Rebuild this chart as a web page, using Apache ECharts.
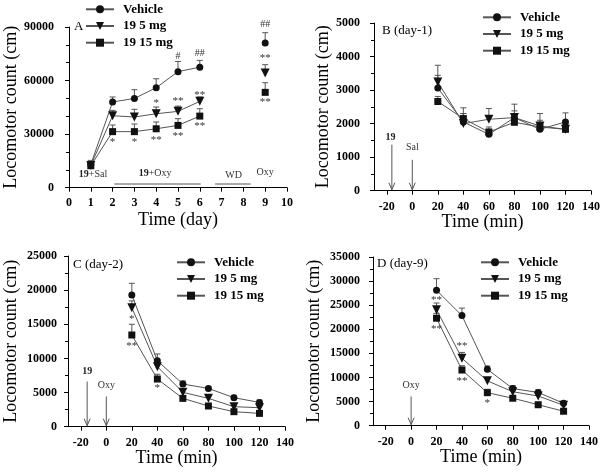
<!DOCTYPE html>
<html><head><meta charset="utf-8">
<script src="https://cdn.jsdelivr.net/npm/echarts@6/dist/echarts.min.js"></script>
<style>html,body{margin:0;padding:0;background:#fff}#c{width:604px;height:474px}</style>
</head><body><div id="c"></div>
<script>
const FONT = '"Liberation Serif","Times New Roman",serif';
const groupNames = ['Vehicle', '19 5 mg', '19 15 mg'];

// Panel A (x = day)
const aDays = [1, 2, 3, 4, 5, 6, 9];
const aVehicle = [13000, 48000, 50000, 56000, 65000, 67500, 81000];
const aVehicleSem = [2300, 2800, 4900, 5000, 5700, 3800, 5800];
const a5mg = [12500, 40300, 39600, 41400, 42750, 48350, 64200];
const a5mgSem = [1500, 3000, 4300, 3800, 2950, 2450, 4700];
const a15mg = [12300, 31400, 31400, 33000, 34900, 40100, 53400];
const a15mgSem = [1500, 3700, 4250, 3800, 3750, 4150, 5400];

// Panels B, C, D (x = min)
const tMin = [20, 40, 60, 80, 100, 120];
const tTicks = [-20, 0, 20, 40, 60, 80, 100, 120, 140];

const bVehicle = [3060, 2050, 1680, 2180, 1830, 2050];
const bVehicleSem = [680, 250, 150, 400, 200, 270];
const b5mg = [3240, 2000, 2130, 2180, 1930, 1830];
const b5mgSem = [200, 300, 320, 200, 370, 150];
const b15mg = [2660, 2150, 1750, 2040, 1900, 1830];
const b15mgSem = [150, 320, 150, 150, 200, 100];

const cVehicle = [19300, 9670, 6250, 5600, 4250, 3560];
const cVehicleSem = [1700, 980, 450, 300, 350, 350];
const c5mg = [17430, 8790, 5030, 4150, 2930, 2780];
const c5mgSem = [1000, 600, 500, 400, 400, 400];
const c15mg = [13430, 6980, 4150, 3030, 2200, 1950];
const c15mgSem = [1570, 700, 400, 350, 300, 300];

const dVehicle = [28100, 22840, 11700, 7700, 6900, 4650];
const dVehicleSem = [2400, 1550, 700, 600, 550, 400];
const d5mg = [24050, 14000, 9300, 7050, 6150, 4250];
const d5mgSem = [1400, 1200, 700, 500, 500, 300];
const d15mg = [22300, 11550, 6850, 5700, 4350, 3000];
const d15mgSem = [1000, 900, 700, 400, 300, 300];

// annotations [x, y, text]
const aNotes = [
  [1.1, 7700, '{b|19}+Sal'], [3.95, 8200, '{b|19}+Oxy'], [7.55, 7100, 'WD'], [9.0, 8800, 'Oxy'],
  [2, 27000, '*'], [3, 27000, '*'], [4, 49100, '*'], [4, 28100, '**'],
  [5, 50000, '**'], [5, 30700, '**'], [5, 73800, '#'],
  [6, 75400, '##'], [6, 53800, '**'], [6, 36000, '**'],
  [9, 91300, '##'], [9, 74400, '**'], [9, 49500, '**']
];
const aUnderlines = [[2.08, 6.04, 2070], [6.7, 8.33, 2070]];
const bNotes = [[-17, 1600, '{b|19}'], [0, 1300, 'Sal']];
const bArrows = [[-16, 1370], [0, 920]];
const cNotes = [[-15, 8085, '{b|19}'], [0, 6000, 'Oxy'], [20, 16230, '*'], [20, 12240, '**'], [40, 6140, '*']];
const cArrows = [[-15, 6620], [0, 4430]];
const dNotes = [[0, 8280, 'Oxy'], [20, 26780, '**'], [20, 20560, '**'], [40, 17130, '**'], [40, 9880, '**'], [60, 5380, '*']];
const dArrows = [[0, 6070]];

const symbols = ['circle', 'triangle', 'rect'];
const symRot = [0, 180, 0];
const symSize = [7, 9, 7];
const LINE = '#555';

function lineSeries(gi, xs, vals, k) {
  const step = xs[1] - xs[0];
  const data = [];
  xs.forEach((x, i) => {
    if (i > 0 && x - xs[i - 1] > 1.5 * step) data.push([x, '-']);
    data.push([x, vals[i]]);
  });
  return {
    type: 'line', name: groupNames[k], xAxisIndex: gi, yAxisIndex: gi, data,
    symbol: symbols[k], symbolRotate: symRot[k], symbolSize: symSize[k], showSymbol: true, showAllSymbol: true,
    connectNulls: false, z: 3,
    lineStyle: { color: LINE, width: 1 }, itemStyle: { color: '#111' }
  };
}
function errSeries(gi, xs, vals, sems) {
  return {
    type: 'custom', xAxisIndex: gi, yAxisIndex: gi, silent: true, z: 2,
    data: xs.map((x, i) => [x, vals[i], sems[i]]),
    renderItem(params, api) {
      const x = api.value(0), m = api.value(1), s = api.value(2);
      const p0 = api.coord([x, m]), p1 = api.coord([x, m + s]);
      const w = 3;
      return { type: 'group', children: [
        { type: 'line', shape: { x1: p0[0], y1: p0[1], x2: p1[0], y2: p1[1] }, style: { stroke: LINE, lineWidth: 1 } },
        { type: 'line', shape: { x1: p1[0] - w, y1: p1[1], x2: p1[0] + w, y2: p1[1] }, style: { stroke: LINE, lineWidth: 1 } }
      ]};
    }
  };
}
function noteSeries(gi, items) {
  return {
    type: 'custom', xAxisIndex: gi, yAxisIndex: gi, silent: true, z: 5,
    data: items.map(d => [d[0], d[1]]),
    renderItem(params, api) {
      const t = items[params.dataIndex][2];
      const p = api.coord([api.value(0), api.value(1)]);
      const star = t[0] === '*';
      return { type: 'text', x: p[0], y: p[1] + (star ? 3 : 0), style: {
        text: t, fill: '#333', fontFamily: FONT, fontSize: star ? 11 : 10, align: 'center', verticalAlign: 'middle',
        rich: { b: { fontWeight: 'bold', fontFamily: FONT, fontSize: 10, fill: '#222' } }
      }};
    }
  };
}
function arrowSeries(gi, items) {
  return {
    type: 'custom', xAxisIndex: gi, yAxisIndex: gi, silent: true, z: 4,
    data: items,
    renderItem(params, api) {
      const p0 = api.coord([api.value(0), api.value(1)]);
      const p1 = api.coord([api.value(0), 0]);
      const tip = p1[1] - 1;
      return { type: 'group', children: [
        { type: 'line', shape: { x1: p0[0], y1: p0[1], x2: p0[0], y2: tip }, style: { stroke: LINE, lineWidth: 1 } },
        { type: 'polyline', shape: { points: [[p0[0] - 3, tip - 7], [p0[0], tip], [p0[0] + 3, tip - 7]] }, style: { stroke: LINE, lineWidth: 1, fill: null } }
      ]};
    }
  };
}
function underlineSeries(gi, items) {
  return {
    type: 'custom', xAxisIndex: gi, yAxisIndex: gi, silent: true, z: 4,
    data: items,
    renderItem(params, api) {
      const a = api.coord([api.value(0), api.value(2)]);
      const b = api.coord([api.value(1), api.value(2)]);
      return { type: 'line', shape: { x1: a[0], y1: a[1], x2: b[0], y2: b[1] }, style: { stroke: LINE, lineWidth: 1 } };
    }
  };
}

const grids = [
  { left: 69, top: 27, width: 218, height: 160.7 },
  { left: 374, top: 23, width: 217, height: 167.7 },
  { left: 68, top: 256, width: 217, height: 170.7 },
  { left: 373, top: 257, width: 216, height: 168.7 }
];
const axisBase = {
  axisLine: { show: true, onZero: false, lineStyle: { color: '#000', width: 1 } },
  axisTick: { show: true, length: 4, lineStyle: { color: '#000' } },
  splitLine: { show: false },
  nameLocation: 'middle',
  nameTextStyle: { fontFamily: FONT, fontSize: 18, color: '#000' }
};
const lab = (margin) => ({ fontFamily: FONT, fontSize: 12, fontWeight: 'bold', color: '#000', margin, formatter: v => String(v) });
const tickT = { show: true, length: 4, lineStyle: { color: '#000' }, customValues: tTicks };

const xAxes = [
  Object.assign({}, axisBase, { gridIndex: 0, type: 'value', min: 0, max: 10, interval: 1, name: 'Time (day)', nameGap: 24, axisLabel: lab(9) }),
  Object.assign({}, axisBase, { gridIndex: 1, type: 'value', min: -30, max: 140, interval: 10, name: 'Time (min)', nameGap: 23,
    axisLabel: Object.assign(lab(10), { customValues: tTicks }), axisTick: tickT }),
  Object.assign({}, axisBase, { gridIndex: 2, type: 'value', min: -30, max: 140, interval: 10, name: 'Time (min)', nameGap: 22,
    axisLabel: Object.assign(lab(10), { customValues: tTicks }), axisTick: tickT }),
  Object.assign({}, axisBase, { gridIndex: 3, type: 'value', min: -30, max: 140, interval: 10, name: 'Time (min)', nameGap: 22,
    axisLabel: Object.assign(lab(10), { customValues: tTicks }), axisTick: tickT })
];
const yName = 'Locomotor count (cm)';
const minor = (n) => ({ show: true, splitNumber: n, length: 3, lineStyle: { color: '#000' } });
const yAxes = [
  Object.assign({}, axisBase, { gridIndex: 0, type: 'value', min: 0, max: 90000, interval: 30000, name: yName, nameGap: 48, axisLabel: lab(15), minorTick: minor(3) }),
  Object.assign({}, axisBase, { gridIndex: 1, type: 'value', min: 0, max: 5000, interval: 1000, name: yName, nameGap: 40, axisLabel: lab(14), minorTick: minor(2) }),
  Object.assign({}, axisBase, { gridIndex: 2, type: 'value', min: 0, max: 25000, interval: 5000, name: yName, nameGap: 48, axisLabel: lab(11), minorTick: minor(2) }),
  Object.assign({}, axisBase, { gridIndex: 3, type: 'value', min: 0, max: 35000, interval: 5000, name: yName, nameGap: 50, axisLabel: lab(13), minorTick: minor(2) })
];

const panels = [
  { xs: aDays, vals: [aVehicle, a5mg, a15mg], sems: [aVehicleSem, a5mgSem, a15mgSem] },
  { xs: tMin, vals: [bVehicle, b5mg, b15mg], sems: [bVehicleSem, b5mgSem, b15mgSem] },
  { xs: tMin, vals: [cVehicle, c5mg, c15mg], sems: [cVehicleSem, c5mgSem, c15mgSem] },
  { xs: tMin, vals: [dVehicle, d5mg, d15mg], sems: [dVehicleSem, d5mgSem, d15mgSem] }
];
const series = [];
panels.forEach((p, gi) => {
  for (let k = 0; k < 3; k++) {
    series.push(errSeries(gi, p.xs, p.vals[k], p.sems[k]));
    series.push(lineSeries(gi, p.xs, p.vals[k], k));
  }
});
series.push(noteSeries(0, aNotes), underlineSeries(0, aUnderlines));
series.push(noteSeries(1, bNotes), arrowSeries(1, bArrows));
series.push(noteSeries(2, cNotes), arrowSeries(2, cArrows));
series.push(noteSeries(3, dNotes), arrowSeries(3, dArrows));

const legendBase = {
  orient: 'vertical', padding: 0, itemWidth: 28, itemHeight: 10, itemGap: 3.7,
  selectedMode: false, data: groupNames,
  textStyle: { fontFamily: FONT, fontSize: 13, fontWeight: 'bold', color: '#000', lineHeight: 13, padding: [0, 0, 0, 4] }
};
const legends = [
  Object.assign({}, legendBase, { left: 85, top: 2.8 }),
  Object.assign({}, legendBase, { left: 482, top: 10.8 }),
  Object.assign({}, legendBase, { left: 176, top: 255.8 }),
  Object.assign({}, legendBase, { left: 480, top: 255.8 })
];
const tStyle = { fontFamily: FONT, fontSize: 13, fontWeight: 'normal', color: '#000' };
const titles = [
  { text: 'A', left: 74, top: 20, padding: 0, textStyle: tStyle },
  { text: 'B (day-1)', left: 382, top: 24.5, padding: 0, textStyle: tStyle },
  { text: 'C (day-2)', left: 73, top: 258.5, padding: 0, textStyle: tStyle },
  { text: 'D (day-9)', left: 377, top: 257, padding: 0, textStyle: tStyle }
];

const chart = echarts.init(document.getElementById('c'));
chart.setOption({
  animation: false,
  backgroundColor: '#fff',
  title: titles,
  legend: legends,
  grid: grids,
  xAxis: xAxes,
  yAxis: yAxes,
  series
});
</script></body></html>
